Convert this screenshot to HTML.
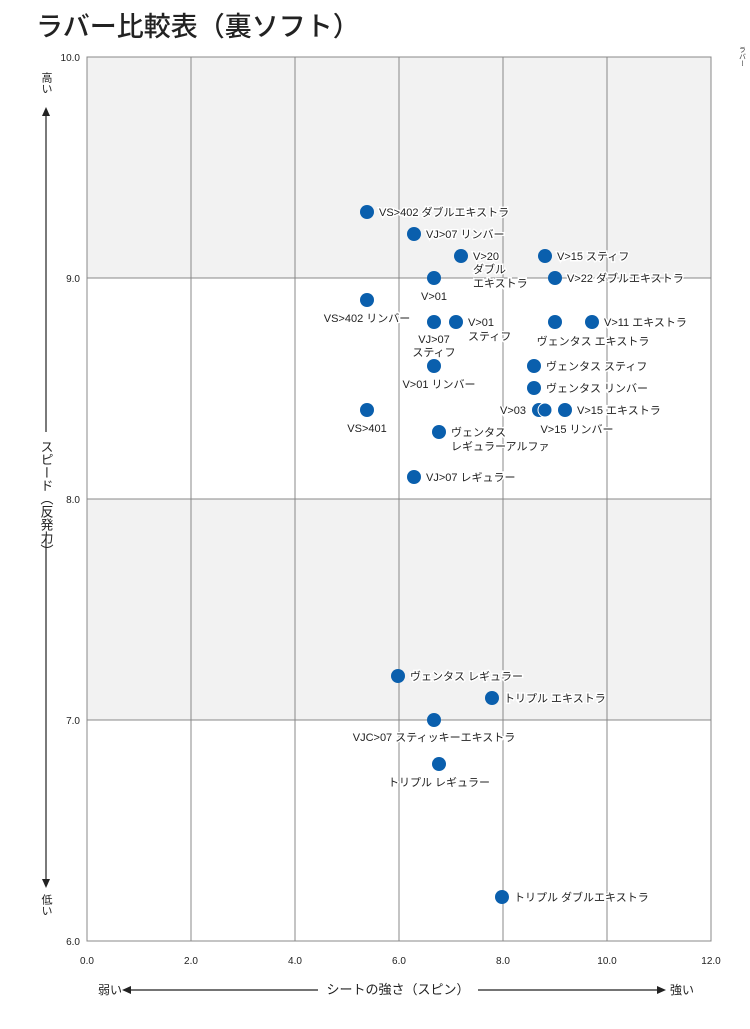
<!DOCTYPE html>
<html><head><meta charset="utf-8"><style>
body{margin:0;background:#fff;}
svg text{font-family:"Liberation Sans","Noto Sans CJK JP",sans-serif;fill:#222;}
.l{font-size:11px;stroke:#fff;stroke-width:3px;paint-order:stroke;}
.t{font-size:10px;fill:#333;}
.v{writing-mode:vertical-rl;text-orientation:upright;}
</style></head><body>
<svg width="750" height="1024" viewBox="0 0 750 1024" xmlns="http://www.w3.org/2000/svg">
<text x="36" y="36" style="font-size:27px;font-weight:500;">ラバー比較表（裏ソフト）</text>
<text x="742" y="46" class="t v" style="font-size:7px;">ラバー</text>
<rect x="87" y="57" width="624" height="221" fill="#f2f2f2"/>
<rect x="87" y="499" width="624" height="221" fill="#f2f2f2"/>
<g stroke="#888" stroke-width="1">
<line x1="191" y1="57" x2="191" y2="941"/><line x1="295" y1="57" x2="295" y2="941"/>
<line x1="399" y1="57" x2="399" y2="941"/><line x1="503" y1="57" x2="503" y2="941"/>
<line x1="607" y1="57" x2="607" y2="941"/>
<line x1="87" y1="278" x2="711" y2="278"/><line x1="87" y1="499" x2="711" y2="499"/>
<line x1="87" y1="720" x2="711" y2="720"/>
<rect x="87" y="57" width="624" height="884" fill="none"/>
</g>
<g class="t" text-anchor="end">
<text x="80" y="61">10.0</text><text x="80" y="282">9.0</text><text x="80" y="503">8.0</text><text x="80" y="724">7.0</text><text x="80" y="945">6.0</text>
</g>
<g class="t" text-anchor="middle">
<text x="87" y="964">0.0</text><text x="191" y="964">2.0</text><text x="295" y="964">4.0</text><text x="399" y="964">6.0</text><text x="503" y="964">8.0</text><text x="607" y="964">10.0</text><text x="711" y="964">12.0</text>
</g>
<!-- y axis -->
<text x="46" y="72" class="v" style="font-size:11px;">高い</text>
<line x1="46" y1="115" x2="46" y2="432" stroke="#222" stroke-width="1.2"/>
<polygon points="46,107 42,116 50,116" fill="#222"/>
<text x="46" y="440" class="v" style="font-size:13px;">スピード（反発力）</text>
<line x1="46" y1="536" x2="46" y2="880" stroke="#222" stroke-width="1.2"/>
<polygon points="46,888 42,879 50,879" fill="#222"/>
<text x="46" y="894" class="v" style="font-size:11px;">低い</text>
<!-- x axis -->
<text x="98" y="994" style="font-size:12px;">弱い</text>
<line x1="130" y1="990" x2="318" y2="990" stroke="#222" stroke-width="1.2"/>
<polygon points="122,990 131,986 131,994" fill="#222"/>
<text x="398" y="994" text-anchor="middle" style="font-size:13px;">シートの強さ（スピン）</text>
<line x1="478" y1="990" x2="658" y2="990" stroke="#222" stroke-width="1.2"/>
<polygon points="666,990 657,986 657,994" fill="#222"/>
<text x="670" y="994" style="font-size:12px;">強い</text>
<!-- points -->
<g fill="#0a5fad">
<circle cx="367" cy="212" r="7"/><circle cx="414" cy="234" r="7"/><circle cx="461" cy="256" r="7"/>
<circle cx="545" cy="256" r="7"/><circle cx="434" cy="278" r="7"/><circle cx="555" cy="278" r="7"/>
<circle cx="367" cy="300" r="7"/><circle cx="434" cy="322" r="7"/><circle cx="456" cy="322" r="7"/>
<circle cx="555" cy="322" r="7"/><circle cx="592" cy="322" r="7"/><circle cx="434" cy="366" r="7"/>
<circle cx="534" cy="366" r="7"/><circle cx="534" cy="388" r="7"/><circle cx="539" cy="410" r="7"/>
<circle cx="545" cy="410" r="7" stroke="#fff" stroke-width="1"/><circle cx="565" cy="410" r="7"/><circle cx="367" cy="410" r="7"/>
<circle cx="439" cy="432" r="7"/><circle cx="414" cy="477" r="7"/><circle cx="398" cy="676" r="7"/>
<circle cx="492" cy="698" r="7"/><circle cx="434" cy="720" r="7"/><circle cx="439" cy="764" r="7"/>
<circle cx="502" cy="897" r="7"/>
</g>
<g class="l">
<text x="379" y="216">VS&gt;402 ダブルエキストラ</text>
<text x="426" y="238">VJ&gt;07 リンバー</text>
<text x="473" y="260">V&gt;20</text><text x="473" y="273">ダブル</text><text x="473" y="287">エキストラ</text>
<text x="557" y="260">V&gt;15 スティフ</text>
<text x="567" y="282">V&gt;22 ダブルエキストラ</text>
<text x="434" y="300" text-anchor="middle">V&gt;01</text>
<text x="367" y="322" text-anchor="middle">VS&gt;402 リンバー</text>
<text x="434" y="343" text-anchor="middle">VJ&gt;07</text><text x="434" y="356" text-anchor="middle">スティフ</text>
<text x="468" y="326">V&gt;01</text><text x="468" y="340">スティフ</text>
<text x="593" y="345" text-anchor="middle">ヴェンタス エキストラ</text>
<text x="604" y="326">V&gt;11 エキストラ</text>
<text x="439" y="388" text-anchor="middle">V&gt;01 リンバー</text>
<text x="546" y="370">ヴェンタス スティフ</text>
<text x="546" y="392">ヴェンタス リンバー</text>
<text x="526" y="414" text-anchor="end">V&gt;03</text>
<text x="577" y="414">V&gt;15 エキストラ</text>
<text x="577" y="433" text-anchor="middle">V&gt;15 リンバー</text>
<text x="367" y="432" text-anchor="middle">VS&gt;401</text>
<text x="451" y="436">ヴェンタス</text><text x="451" y="450">レギュラーアルファ</text>
<text x="426" y="481">VJ&gt;07 レギュラー</text>
<text x="410" y="680">ヴェンタス レギュラー</text>
<text x="504" y="702">トリプル エキストラ</text>
<text x="434" y="741" text-anchor="middle">VJC&gt;07 スティッキーエキストラ</text>
<text x="439" y="786" text-anchor="middle">トリプル レギュラー</text>
<text x="514" y="901">トリプル ダブルエキストラ</text>
</g>
</svg>
</body></html>
